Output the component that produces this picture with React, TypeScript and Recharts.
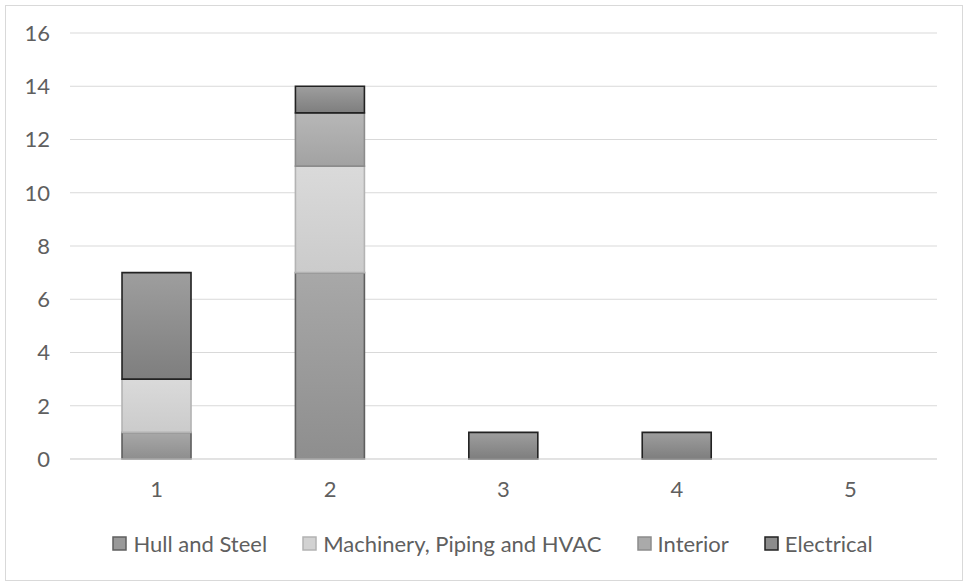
import React from 'react';
import { BarChart, Bar, XAxis, YAxis, CartesianGrid, Legend } from 'recharts';

const categories = ['1', '2', '3', '4', '5'];
const hullAndSteel = [1, 7, 0, 0, 0];
const machineryPipingHvac = [2, 4, 0, 0, 0];
const interior = [0, 2, 0, 0, 0];
const electrical = [4, 1, 1, 1, 0];
const yTicks = [0, 2, 4, 6, 8, 10, 12, 14, 16];

const data = categories.map((c, i) => ({
  name: c,
  hull: hullAndSteel[i],
  machinery: machineryPipingHvac[i],
  interior: interior[i],
  electrical: electrical[i],
}));

const series = [
  { key: 'hull', name: 'Hull and Steel', top: '#a8a8a8', bottom: '#8e8e8e', stroke: '#5f5f5f', marker: '#999999' },
  { key: 'machinery', name: 'Machinery, Piping and HVAC', top: '#dadada', bottom: '#cbcbcb', stroke: '#b3b3b3', marker: '#d2d2d2' },
  { key: 'interior', name: 'Interior', top: '#b7b7b7', bottom: '#a2a2a2', stroke: '#8c8c8c', marker: '#aaaaaa' },
  { key: 'electrical', name: 'Electrical', top: '#9e9e9e', bottom: '#7e7e7e', stroke: '#222222', marker: '#8c8c8c' },
];

const FONT = 'Lato, "Liberation Sans", sans-serif';
const FS = 22;

const LegendContent = () => {
  return (
    <div style={{ display: 'flex', justifyContent: 'center', alignItems: 'center', height: 30, fontFamily: FONT, fontSize: FS, color: '#5f5f5f', paddingLeft: 48 }}>
      {series.map((s, i) => (
        <div key={s.key} style={{ display: 'flex', alignItems: 'center', marginRight: i < series.length - 1 ? 35 : 0 }}>
          <svg width={15} height={15} style={{ marginRight: 6 }}>
            <rect x={1} y={1} width={13} height={13} fill={s.marker} stroke={s.stroke} strokeWidth={1.5} />
          </svg>
          <span>{s.name}</span>
        </div>
      ))}
    </div>
  );
};

export default function App() {
  return (
    <div style={{ position: 'absolute', left: 0, top: 0, width: 966, height: 583, background: '#fff' }}>
      <div style={{ position: 'absolute', left: 5, top: 5, width: 958, height: 576, border: '1px solid #d9d9d9', boxSizing: 'border-box' }} />
      <BarChart
        width={966}
        height={583}
        data={data}
        margin={{ top: 33, right: 29, left: 0, bottom: 64 }}
        barCategoryGap="30%"
      >
        <defs>
          {series.map((s) => (
            <linearGradient key={s.key} id={`grad-${s.key}`} x1="0" y1="0" x2="0" y2="1">
              <stop offset="0%" stopColor={s.top} />
              <stop offset="100%" stopColor={s.bottom} />
            </linearGradient>
          ))}
        </defs>
        <CartesianGrid vertical={false} stroke="#d9d9d9" strokeWidth={1} />
        <XAxis
          dataKey="name"
          axisLine={{ stroke: '#d9d9d9' }}
          tickLine={false}
          tickMargin={16}
          height={30}
          tick={{ fill: '#5f5f5f', fontSize: FS, fontFamily: FONT }}
        />
        <YAxis
          domain={[0, 16]}
          ticks={yTicks}
          axisLine={false}
          tickLine={false}
          tickMargin={14}
          width={70}
          tick={{ fill: '#5f5f5f', fontSize: FS, fontFamily: FONT }}
        />
        <Legend verticalAlign="bottom" content={<LegendContent />} wrapperStyle={{ bottom: 25, height: 30 }} />
        {series.map((s) => (
          <Bar
            key={s.key}
            dataKey={s.key}
            name={s.name}
            stackId="a"
            fill={`url(#grad-${s.key})`}
            stroke={s.stroke}
            strokeWidth={1.6}
            isAnimationActive={false}
          />
        ))}
      </BarChart>
    </div>
  );
}
